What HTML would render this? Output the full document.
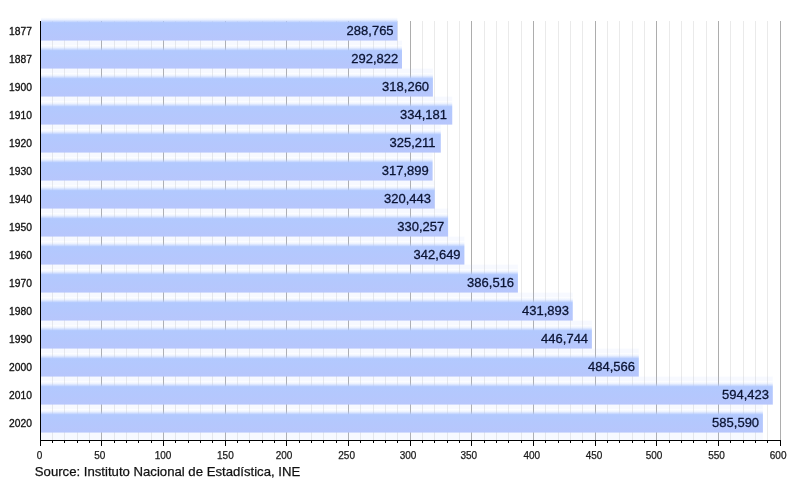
<!DOCTYPE html>
<html lang="en">
<head>
<meta charset="utf-8">
<title>Population chart</title>
<style>
html,body{margin:0;padding:0;background:#fff;}
body{width:800px;height:480px;overflow:hidden;}
svg{display:block;}
text{font-family:"Liberation Sans",Arial,Helvetica,sans-serif;stroke-linejoin:round;}
.v{font-size:13px;fill:#0b1433;text-anchor:end;stroke:#0b1433;stroke-width:.3px;}
.y{font-size:10.3px;fill:#111;stroke:#111;stroke-width:.3px;}
.x{font-size:10px;fill:#1a1a1a;text-anchor:middle;stroke:#1a1a1a;stroke-width:.25px;}
.s{font-size:13.17px;fill:#111;stroke:#111;stroke-width:.25px;}
</style>
</head>
<body>
<svg width="800" height="480" viewBox="0 0 800 480">
<defs><linearGradient id="g" x1="0" y1="0" x2="0" y2="1"><stop offset="0" stop-color="#b2c9fe" stop-opacity="0"/><stop offset="0.0927" stop-color="#b2c9fe" stop-opacity="0.22"/><stop offset="0.1669" stop-color="#b2c9fe" stop-opacity="0.62"/><stop offset="0.2318" stop-color="#b2c9fe" stop-opacity="1"/><stop offset="1" stop-color="#b7c6fc" stop-opacity="1"/></linearGradient><filter id="t" filterUnits="userSpaceOnUse" x="0" y="0" width="800" height="480" color-interpolation-filters="sRGB"><feOffset dx="0" dy="0"/></filter></defs>
<rect x="0" y="0" width="800" height="480" fill="#fff"/>
<g>
<rect x="52" y="21" width="1" height="419" fill="#eaeaea"/>
<rect x="64" y="21" width="1" height="419" fill="#eaeaea"/>
<rect x="77" y="21" width="1" height="419" fill="#eaeaea"/>
<rect x="89" y="21" width="1" height="419" fill="#eaeaea"/>
<rect x="101" y="21" width="1" height="419" fill="#adadad"/>
<rect x="114" y="21" width="1" height="419" fill="#eaeaea"/>
<rect x="126" y="21" width="1" height="419" fill="#eaeaea"/>
<rect x="138" y="21" width="1" height="419" fill="#eaeaea"/>
<rect x="151" y="21" width="1" height="419" fill="#eaeaea"/>
<rect x="163" y="21" width="1" height="419" fill="#adadad"/>
<rect x="175" y="21" width="1" height="419" fill="#eaeaea"/>
<rect x="188" y="21" width="1" height="419" fill="#eaeaea"/>
<rect x="200" y="21" width="1" height="419" fill="#eaeaea"/>
<rect x="212" y="21" width="1" height="419" fill="#eaeaea"/>
<rect x="225" y="21" width="1" height="419" fill="#adadad"/>
<rect x="237" y="21" width="1" height="419" fill="#eaeaea"/>
<rect x="249" y="21" width="1" height="419" fill="#eaeaea"/>
<rect x="262" y="21" width="1" height="419" fill="#eaeaea"/>
<rect x="274" y="21" width="1" height="419" fill="#eaeaea"/>
<rect x="286" y="21" width="1" height="419" fill="#adadad"/>
<rect x="299" y="21" width="1" height="419" fill="#eaeaea"/>
<rect x="311" y="21" width="1" height="419" fill="#eaeaea"/>
<rect x="323" y="21" width="1" height="419" fill="#eaeaea"/>
<rect x="336" y="21" width="1" height="419" fill="#eaeaea"/>
<rect x="348" y="21" width="1" height="419" fill="#adadad"/>
<rect x="360" y="21" width="1" height="419" fill="#eaeaea"/>
<rect x="373" y="21" width="1" height="419" fill="#eaeaea"/>
<rect x="385" y="21" width="1" height="419" fill="#eaeaea"/>
<rect x="397" y="21" width="1" height="419" fill="#eaeaea"/>
<rect x="410" y="21" width="1" height="419" fill="#adadad"/>
<rect x="422" y="21" width="1" height="419" fill="#eaeaea"/>
<rect x="434" y="21" width="1" height="419" fill="#eaeaea"/>
<rect x="447" y="21" width="1" height="419" fill="#eaeaea"/>
<rect x="459" y="21" width="1" height="419" fill="#eaeaea"/>
<rect x="471" y="21" width="1" height="419" fill="#adadad"/>
<rect x="484" y="21" width="1" height="419" fill="#eaeaea"/>
<rect x="496" y="21" width="1" height="419" fill="#eaeaea"/>
<rect x="508" y="21" width="1" height="419" fill="#eaeaea"/>
<rect x="521" y="21" width="1" height="419" fill="#eaeaea"/>
<rect x="533" y="21" width="1" height="419" fill="#adadad"/>
<rect x="545" y="21" width="1" height="419" fill="#eaeaea"/>
<rect x="558" y="21" width="1" height="419" fill="#eaeaea"/>
<rect x="570" y="21" width="1" height="419" fill="#eaeaea"/>
<rect x="582" y="21" width="1" height="419" fill="#eaeaea"/>
<rect x="595" y="21" width="1" height="419" fill="#adadad"/>
<rect x="607" y="21" width="1" height="419" fill="#eaeaea"/>
<rect x="619" y="21" width="1" height="419" fill="#eaeaea"/>
<rect x="632" y="21" width="1" height="419" fill="#eaeaea"/>
<rect x="644" y="21" width="1" height="419" fill="#eaeaea"/>
<rect x="656" y="21" width="1" height="419" fill="#adadad"/>
<rect x="669" y="21" width="1" height="419" fill="#eaeaea"/>
<rect x="681" y="21" width="1" height="419" fill="#eaeaea"/>
<rect x="693" y="21" width="1" height="419" fill="#eaeaea"/>
<rect x="706" y="21" width="1" height="419" fill="#eaeaea"/>
<rect x="718" y="21" width="1" height="419" fill="#adadad"/>
<rect x="730" y="21" width="1" height="419" fill="#eaeaea"/>
<rect x="743" y="21" width="1" height="419" fill="#eaeaea"/>
<rect x="755" y="21" width="1" height="419" fill="#eaeaea"/>
<rect x="767" y="21" width="1" height="419" fill="#eaeaea"/>
<rect x="780" y="21" width="1" height="419" fill="#adadad"/>
</g>
<g>
<rect x="41" y="40.6" width="361" height="4.7" fill="#b3c7fd" fill-opacity="0.1"/>
<rect x="41" y="68.6" width="391.9" height="4.7" fill="#b3c7fd" fill-opacity="0.1"/>
<rect x="41" y="96.6" width="411.25" height="4.7" fill="#b3c7fd" fill-opacity="0.1"/>
<rect x="41" y="124.6" width="399.8" height="4.7" fill="#b3c7fd" fill-opacity="0.1"/>
<rect x="41" y="152.6" width="391.6" height="4.7" fill="#b3c7fd" fill-opacity="0.1"/>
<rect x="41" y="180.6" width="393.75" height="4.7" fill="#b3c7fd" fill-opacity="0.1"/>
<rect x="41" y="208.6" width="407.1" height="4.7" fill="#b3c7fd" fill-opacity="0.1"/>
<rect x="41" y="236.6" width="423.4" height="4.7" fill="#b3c7fd" fill-opacity="0.1"/>
<rect x="41" y="264.6" width="476.9" height="4.7" fill="#b3c7fd" fill-opacity="0.1"/>
<rect x="41" y="292.6" width="531.75" height="4.7" fill="#b3c7fd" fill-opacity="0.1"/>
<rect x="41" y="320.6" width="550.9" height="4.7" fill="#b3c7fd" fill-opacity="0.1"/>
<rect x="41" y="348.6" width="597.8" height="4.7" fill="#b3c7fd" fill-opacity="0.1"/>
<rect x="41" y="376.6" width="731.8" height="4.7" fill="#b3c7fd" fill-opacity="0.1"/>
<rect x="41" y="404.6" width="721.9" height="4.7" fill="#b3c7fd" fill-opacity="0.1"/>
<rect x="41" y="432.6" width="721.9" height="7.4" fill="#b3c7fd" fill-opacity="0.1"/>
<rect x="41" y="17.3" width="356.4" height="23.3" fill="url(#g)"/>
<rect x="41" y="45.3" width="361" height="23.3" fill="url(#g)"/>
<rect x="41" y="73.3" width="391.9" height="23.3" fill="url(#g)"/>
<rect x="41" y="101.3" width="411.25" height="23.3" fill="url(#g)"/>
<rect x="41" y="129.3" width="399.8" height="23.3" fill="url(#g)"/>
<rect x="41" y="157.3" width="391.6" height="23.3" fill="url(#g)"/>
<rect x="41" y="185.3" width="393.75" height="23.3" fill="url(#g)"/>
<rect x="41" y="213.3" width="407.1" height="23.3" fill="url(#g)"/>
<rect x="41" y="241.3" width="423.4" height="23.3" fill="url(#g)"/>
<rect x="41" y="269.3" width="476.9" height="23.3" fill="url(#g)"/>
<rect x="41" y="297.3" width="531.75" height="23.3" fill="url(#g)"/>
<rect x="41" y="325.3" width="550.9" height="23.3" fill="url(#g)"/>
<rect x="41" y="353.3" width="597.8" height="23.3" fill="url(#g)"/>
<rect x="41" y="381.3" width="731.8" height="23.3" fill="url(#g)"/>
<rect x="41" y="409.3" width="721.9" height="23.3" fill="url(#g)"/>
</g>
<g fill="#000">
<rect x="40" y="21" width="1" height="425"/>
<rect x="40" y="440" width="741" height="1"/>
<rect x="52" y="441" width="1" height="2"/>
<rect x="64" y="441" width="1" height="2"/>
<rect x="77" y="441" width="1" height="2"/>
<rect x="89" y="441" width="1" height="2"/>
<rect x="101" y="441" width="1" height="5"/>
<rect x="114" y="441" width="1" height="2"/>
<rect x="126" y="441" width="1" height="2"/>
<rect x="138" y="441" width="1" height="2"/>
<rect x="151" y="441" width="1" height="2"/>
<rect x="163" y="441" width="1" height="5"/>
<rect x="175" y="441" width="1" height="2"/>
<rect x="188" y="441" width="1" height="2"/>
<rect x="200" y="441" width="1" height="2"/>
<rect x="212" y="441" width="1" height="2"/>
<rect x="225" y="441" width="1" height="5"/>
<rect x="237" y="441" width="1" height="2"/>
<rect x="249" y="441" width="1" height="2"/>
<rect x="262" y="441" width="1" height="2"/>
<rect x="274" y="441" width="1" height="2"/>
<rect x="286" y="441" width="1" height="5"/>
<rect x="299" y="441" width="1" height="2"/>
<rect x="311" y="441" width="1" height="2"/>
<rect x="323" y="441" width="1" height="2"/>
<rect x="336" y="441" width="1" height="2"/>
<rect x="348" y="441" width="1" height="5"/>
<rect x="360" y="441" width="1" height="2"/>
<rect x="373" y="441" width="1" height="2"/>
<rect x="385" y="441" width="1" height="2"/>
<rect x="397" y="441" width="1" height="2"/>
<rect x="410" y="441" width="1" height="5"/>
<rect x="422" y="441" width="1" height="2"/>
<rect x="434" y="441" width="1" height="2"/>
<rect x="447" y="441" width="1" height="2"/>
<rect x="459" y="441" width="1" height="2"/>
<rect x="471" y="441" width="1" height="5"/>
<rect x="484" y="441" width="1" height="2"/>
<rect x="496" y="441" width="1" height="2"/>
<rect x="508" y="441" width="1" height="2"/>
<rect x="521" y="441" width="1" height="2"/>
<rect x="533" y="441" width="1" height="5"/>
<rect x="545" y="441" width="1" height="2"/>
<rect x="558" y="441" width="1" height="2"/>
<rect x="570" y="441" width="1" height="2"/>
<rect x="582" y="441" width="1" height="2"/>
<rect x="595" y="441" width="1" height="5"/>
<rect x="607" y="441" width="1" height="2"/>
<rect x="619" y="441" width="1" height="2"/>
<rect x="632" y="441" width="1" height="2"/>
<rect x="644" y="441" width="1" height="2"/>
<rect x="656" y="441" width="1" height="5"/>
<rect x="669" y="441" width="1" height="2"/>
<rect x="681" y="441" width="1" height="2"/>
<rect x="693" y="441" width="1" height="2"/>
<rect x="706" y="441" width="1" height="2"/>
<rect x="718" y="441" width="1" height="5"/>
<rect x="730" y="441" width="1" height="2"/>
<rect x="743" y="441" width="1" height="2"/>
<rect x="755" y="441" width="1" height="2"/>
<rect x="767" y="441" width="1" height="2"/>
<rect x="780" y="441" width="1" height="5"/>
</g>
<g class="v" filter="url(#t)">
<text x="393.6" y="34.8">288,765</text>
<text x="398.2" y="62.8">292,822</text>
<text x="429.1" y="90.8">318,260</text>
<text x="447.05" y="118.8">334,181</text>
<text x="435.6" y="146.8">325,211</text>
<text x="428.8" y="174.8">317,899</text>
<text x="430.95" y="202.8">320,443</text>
<text x="444.3" y="230.8">330,257</text>
<text x="460.6" y="258.8">342,649</text>
<text x="514.1" y="286.8">386,516</text>
<text x="568.95" y="314.8">431,893</text>
<text x="588.1" y="342.8">446,744</text>
<text x="635" y="370.8">484,566</text>
<text x="769" y="398.8">594,423</text>
<text x="759.1" y="426.8">585,590</text>
</g>
<g class="y" filter="url(#t)">
<text x="9.1" y="34.7">1877</text>
<text x="9.1" y="62.7">1887</text>
<text x="9.1" y="90.7">1900</text>
<text x="9.1" y="118.7">1910</text>
<text x="9.1" y="146.7">1920</text>
<text x="9.1" y="174.7">1930</text>
<text x="9.1" y="202.7">1940</text>
<text x="9.1" y="230.7">1950</text>
<text x="9.1" y="258.7">1960</text>
<text x="9.1" y="286.7">1970</text>
<text x="9.1" y="314.7">1980</text>
<text x="9.1" y="342.7">1990</text>
<text x="9.1" y="370.7">2000</text>
<text x="9.1" y="398.7">2010</text>
<text x="9.1" y="426.7">2020</text>
</g>
<g class="x" filter="url(#t)">
<text x="39.65" y="458.8">0</text>
<text x="99.82" y="458.8">50</text>
<text x="163.03" y="458.8">100</text>
<text x="225.4" y="458.8">150</text>
<text x="284.07" y="458.8">200</text>
<text x="346.63" y="458.8">250</text>
<text x="408.1" y="458.8">300</text>
<text x="468.77" y="458.8">350</text>
<text x="531.83" y="458.8">400</text>
<text x="594" y="458.8">450</text>
<text x="653.97" y="458.8">500</text>
<text x="716.53" y="458.8">550</text>
<text x="778.15" y="458.8">600</text>
</g>
<text filter="url(#t)" class="s" x="34.8" y="475.6">Source: Instituto Nacional de Estadística, INE</text>
</svg>
</body>
</html>
